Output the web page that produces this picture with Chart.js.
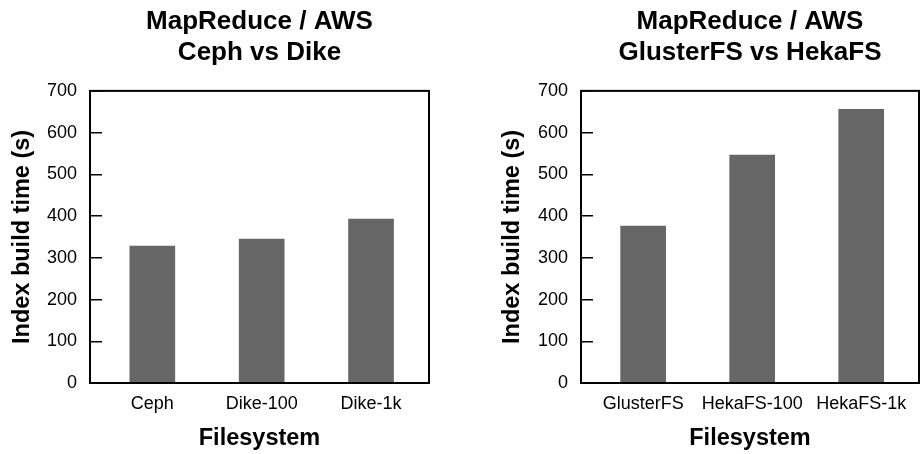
<!DOCTYPE html>
<html>
<head>
<meta charset="utf-8">
<script src="https://cdn.jsdelivr.net/npm/chart.js@4"></script>
<style>
  html, body { margin: 0; padding: 0; background: #fff; width: 920px; height: 454px; overflow: hidden; position: relative; }
  .box { position: absolute; top: 0; height: 454px; }
  #b1 { left: -57px; width: 517px; }
  #b2 { left: 437px; width: 483px; }
</style>
</head>
<body>
<div class="box" id="b1"><canvas id="c1"></canvas></div>
<div class="box" id="b2"><canvas id="c2"></canvas></div>
<script>
// ---- data ----
const categoriesLeft = ['Ceph', 'Dike-100', 'Dike-1k'];
const valuesLeft = [328, 345, 393];
const titleLeft = ['MapReduce / AWS', 'Ceph vs Dike'];

const categoriesRight = ['GlusterFS', 'HekaFS-100', 'HekaFS-1k'];
const valuesRight = [376, 546, 656];
const titleRight = ['MapReduce / AWS', 'GlusterFS vs HekaFS'];

const yTicks = [0, 100, 200, 300, 400, 500, 600, 700];
const xAxisTitle = 'Filesystem';
const yAxisTitle = 'Index build time (s)';

const FONT = '"Liberation Sans", Arial, Helvetica, sans-serif';
const BAR = '#666666';

const frame = {
  id: 'frame',
  afterDatasetsDraw(chart) {
    const a = chart.chartArea, ctx = chart.ctx;
    ctx.save();
    ctx.strokeStyle = '#000';
    ctx.lineWidth = 2;
    ctx.strokeRect(a.left, a.top, a.right - a.left, a.bottom - a.top);
    ctx.restore();
  }
};

function makeChart(id, cats, vals, title, yWidth, yTitlePad, padRight) {
  return new Chart(document.getElementById(id), {
    type: 'bar',
    data: {
      datasets: [{
        data: cats.map((c, i) => ({ x: i, y: vals[i] })),
        backgroundColor: BAR,
        borderWidth: 0,
        barThickness: 45
      }]
    },
    options: {
      responsive: true,
      maintainAspectRatio: false,
      animation: false,
      layout: { padding: { left: 0, right: padRight, top: 0, bottom: 0 } },
      plugins: {
        legend: { display: false },
        tooltip: { enabled: false },
        title: {
          display: true,
          fullSize: false,
          text: title,
          color: '#000',
          font: { family: FONT, size: 26, weight: 'bold', lineHeight: 1.19 },
          padding: { top: 6.5, bottom: 22.5 }
        }
      },
      scales: {
        x: {
          type: 'linear',
          offset: false,
          min: -0.57,
          max: 2.53,
          afterBuildTicks(s) { s.ticks = cats.map((c, i) => ({ value: i })); },
          afterFit(s) { s.height = 71; },
          ticks: {
            callback: (v) => cats[v],
            color: '#000',
            font: { family: FONT, size: 18 },
            padding: 10,
            maxRotation: 0,
            autoSkip: false
          },
          grid: { display: true, offset: false, drawOnChartArea: false, drawTicks: false },
          border: { display: false },
          title: {
            display: true,
            text: xAxisTitle,
            color: '#000',
            font: { family: FONT, size: 23.5, weight: 'bold', lineHeight: 1.2 },
            padding: { top: 0, bottom: 1 }
          }
        },
        y: {
          min: 0,
          max: 700,
          afterBuildTicks(s) { s.ticks = yTicks.map(v => ({ value: v })); },
          afterFit(s) { s.width = yWidth; },
          ticks: {
            color: '#000',
            font: { family: FONT, size: 18 },
            padding: 25
          },
          grid: {
            drawOnChartArea: false,
            drawTicks: true,
            tickLength: -12,
            color: '#000',
            lineWidth: 1.5
          },
          border: { display: false },
          title: {
            display: true,
            text: yAxisTitle,
            color: '#000',
            font: { family: FONT, size: 23.5, weight: 'bold', lineHeight: 1.2 },
            padding: { top: yTitlePad, bottom: 0 }
          }
        }
      }
    },
    plugins: [frame]
  });
}

makeChart('c1', categoriesLeft, valuesLeft, titleLeft, 147, 65, 31);
makeChart('c2', categoriesRight, valuesRight, titleRight, 144, 61, 1);
</script>
</body>
</html>
